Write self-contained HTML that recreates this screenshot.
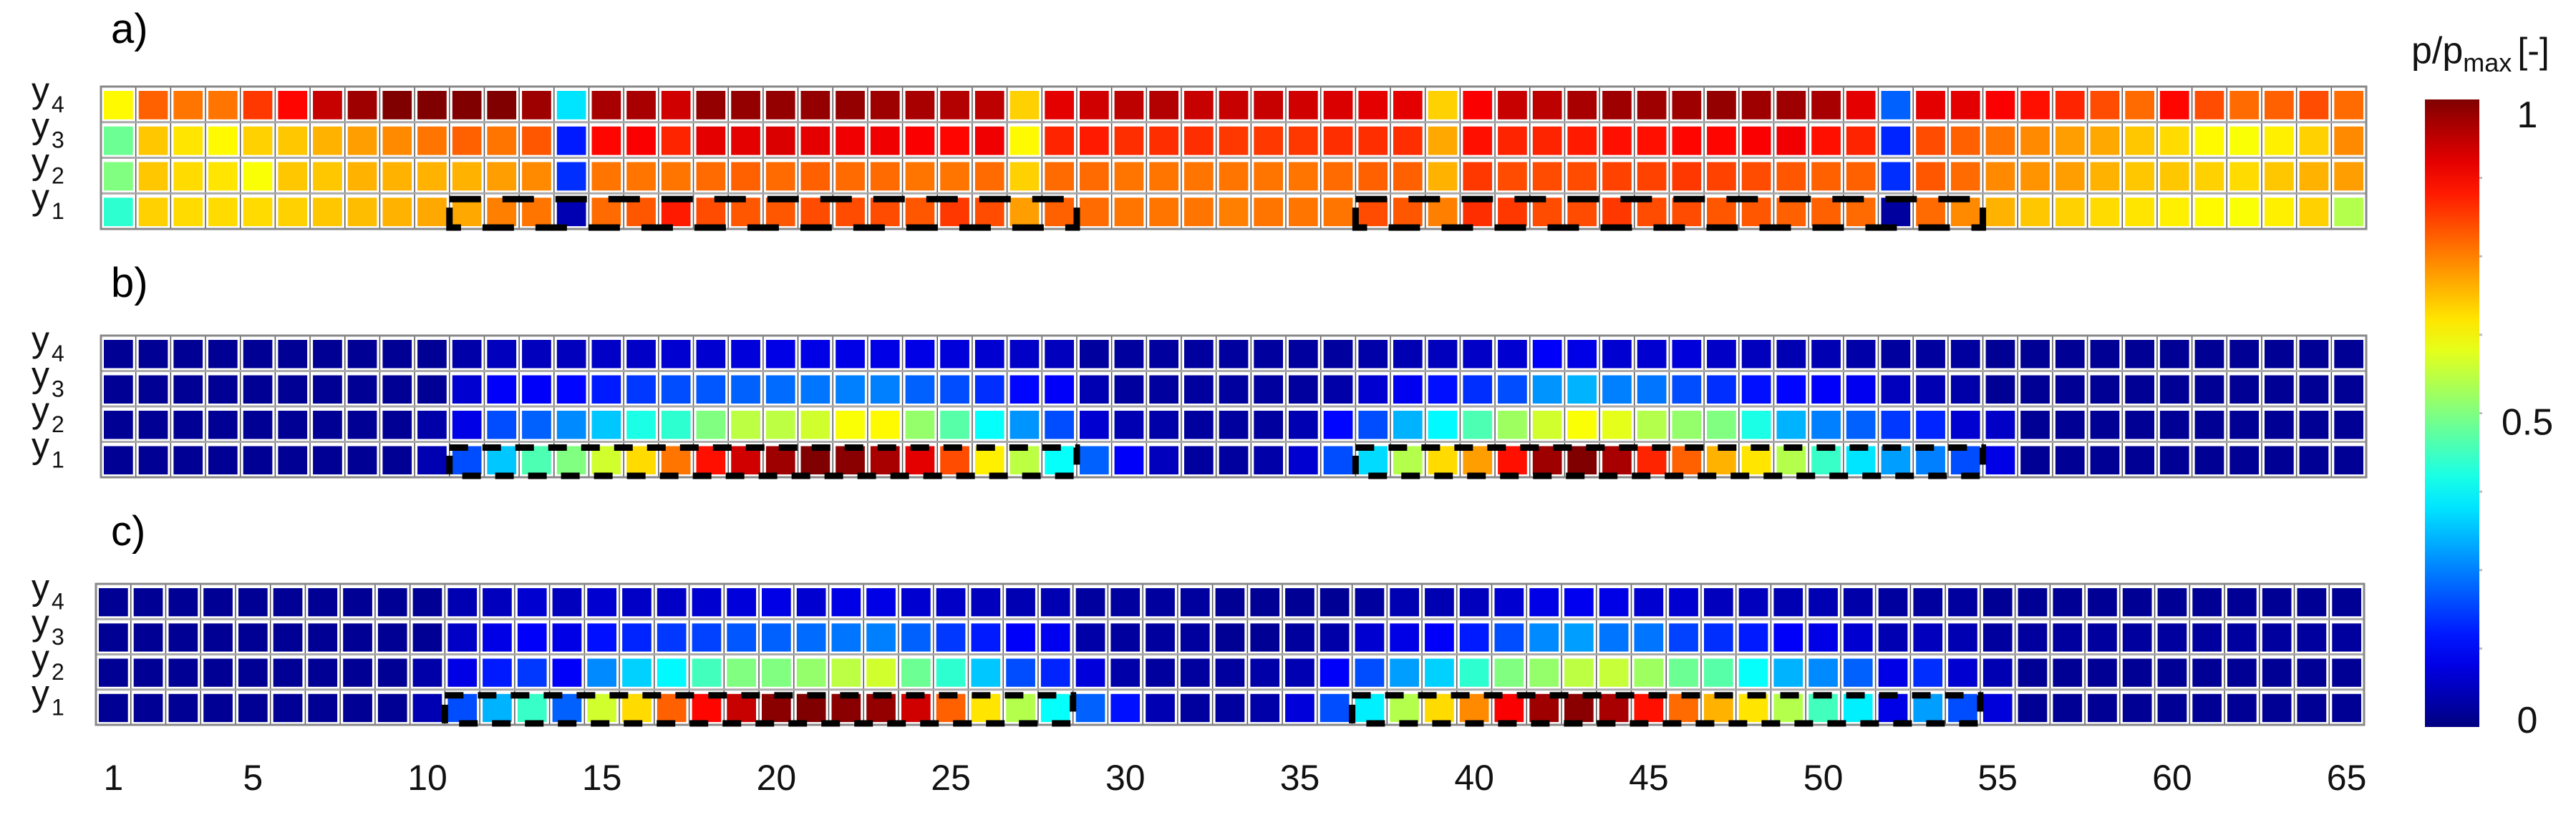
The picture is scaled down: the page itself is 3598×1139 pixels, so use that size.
<!DOCTYPE html>
<html><head><meta charset="utf-8"><style>
html,body{margin:0;padding:0;background:#fff;}
svg{display:block;font-family:"Liberation Sans",Arial,sans-serif;}
</style></head><body>
<svg id="chart" xmlns="http://www.w3.org/2000/svg" width="3598" height="1139" viewBox="0 0 3598 1139">
<defs><linearGradient id="jetGrad" x1="0" y1="1" x2="0" y2="0"></linearGradient></defs>
<rect x="0" y="0" width="3598" height="1139" fill="#fff"/>
<g id="panels"></g>
<g id="colorbar"></g>
</svg>
<script>
const columns = Array.from({length:65},(_, i)=>i+1);
const rowLabels = ["1","2","3","4"];
const xTickLabels = [1,5,10,15,20,25,30,35,40,45,50,55,60,65];
const cbTicks = [0,0.5,1];
const cbTickLabels = ["0","0.5","1"];
const dashedRanges = [[11,28],[37,54]];

const a_y4=[0.63,0.78,0.76,0.76,0.82,0.87,0.93,0.97,1.0,1.0,1.0,1.0,0.97,0.35,0.96,0.96,0.92,0.98,0.98,0.98,0.98,0.98,0.97,0.96,0.95,0.94,0.67,0.9,0.92,0.94,0.95,0.93,0.93,0.93,0.92,0.91,0.9,0.9,0.67,0.88,0.93,0.94,0.96,0.97,0.97,0.97,0.98,0.97,0.97,0.96,0.9,0.22,0.9,0.9,0.88,0.86,0.84,0.8,0.77,0.87,0.8,0.77,0.78,0.8,0.77];
const a_y3=[0.48,0.68,0.65,0.63,0.67,0.68,0.7,0.72,0.74,0.76,0.78,0.76,0.79,0.15,0.87,0.88,0.84,0.9,0.9,0.91,0.9,0.89,0.89,0.88,0.87,0.89,0.63,0.84,0.85,0.83,0.83,0.83,0.82,0.82,0.82,0.83,0.83,0.83,0.71,0.86,0.84,0.84,0.85,0.86,0.86,0.87,0.87,0.88,0.89,0.86,0.84,0.16,0.8,0.78,0.76,0.74,0.72,0.71,0.68,0.66,0.63,0.62,0.64,0.67,0.74];
const a_y2=[0.5,0.68,0.66,0.65,0.62,0.68,0.68,0.7,0.7,0.7,0.7,0.72,0.74,0.17,0.76,0.76,0.76,0.77,0.78,0.77,0.78,0.77,0.77,0.76,0.76,0.77,0.67,0.77,0.77,0.76,0.76,0.76,0.76,0.76,0.76,0.77,0.78,0.78,0.7,0.82,0.8,0.8,0.8,0.81,0.81,0.82,0.81,0.8,0.79,0.78,0.78,0.17,0.79,0.77,0.74,0.73,0.72,0.7,0.68,0.68,0.67,0.66,0.68,0.7,0.72];
const a_y1=[0.42,0.67,0.66,0.66,0.66,0.67,0.68,0.69,0.7,0.71,0.71,0.75,0.76,0.05,0.77,0.79,0.85,0.8,0.79,0.79,0.8,0.8,0.8,0.79,0.82,0.8,0.72,0.78,0.77,0.76,0.76,0.76,0.75,0.76,0.76,0.76,0.8,0.79,0.75,0.83,0.82,0.8,0.8,0.82,0.8,0.8,0.79,0.79,0.78,0.78,0.77,0.03,0.77,0.74,0.7,0.68,0.67,0.66,0.65,0.64,0.63,0.62,0.64,0.67,0.55];

const b_y4=[0.02,0.02,0.02,0.02,0.02,0.02,0.02,0.02,0.02,0.02,0.04,0.06,0.06,0.06,0.07,0.07,0.08,0.08,0.09,0.1,0.1,0.1,0.1,0.1,0.09,0.08,0.07,0.06,0.03,0.03,0.03,0.03,0.03,0.03,0.03,0.03,0.04,0.05,0.06,0.07,0.08,0.12,0.1,0.08,0.08,0.09,0.07,0.06,0.05,0.05,0.04,0.03,0.03,0.03,0.02,0.02,0.02,0.02,0.02,0.02,0.02,0.02,0.02,0.02,0.02];
const b_y3=[0.02,0.02,0.02,0.02,0.02,0.02,0.02,0.02,0.02,0.02,0.08,0.12,0.12,0.13,0.15,0.18,0.2,0.21,0.22,0.23,0.24,0.25,0.25,0.22,0.2,0.17,0.13,0.12,0.05,0.03,0.03,0.03,0.03,0.03,0.03,0.04,0.08,0.11,0.14,0.17,0.2,0.27,0.3,0.25,0.24,0.2,0.17,0.14,0.13,0.12,0.11,0.06,0.05,0.04,0.02,0.02,0.02,0.02,0.02,0.02,0.02,0.02,0.02,0.02,0.02];
const b_y2=[0.02,0.02,0.02,0.02,0.02,0.02,0.02,0.02,0.02,0.04,0.1,0.2,0.22,0.26,0.32,0.4,0.42,0.5,0.56,0.56,0.58,0.62,0.63,0.52,0.46,0.38,0.27,0.2,0.08,0.05,0.04,0.03,0.03,0.03,0.05,0.13,0.2,0.3,0.37,0.45,0.53,0.58,0.62,0.6,0.55,0.52,0.5,0.4,0.3,0.25,0.22,0.18,0.16,0.08,0.07,0.02,0.02,0.02,0.02,0.02,0.02,0.02,0.02,0.02,0.02];
const b_y1=[0.02,0.02,0.02,0.02,0.02,0.02,0.02,0.02,0.02,0.05,0.2,0.32,0.45,0.5,0.58,0.66,0.76,0.86,0.92,0.97,1.0,0.99,0.96,0.9,0.8,0.64,0.56,0.38,0.22,0.12,0.06,0.03,0.03,0.04,0.08,0.2,0.34,0.55,0.66,0.72,0.86,0.97,1.0,0.96,0.84,0.78,0.7,0.65,0.55,0.43,0.35,0.28,0.25,0.2,0.1,0.02,0.02,0.02,0.02,0.02,0.02,0.02,0.02,0.02,0.02];

const c_y4=[0.02,0.02,0.02,0.02,0.02,0.02,0.02,0.02,0.02,0.02,0.05,0.06,0.08,0.06,0.08,0.07,0.07,0.08,0.09,0.1,0.08,0.1,0.1,0.08,0.07,0.06,0.05,0.05,0.03,0.03,0.03,0.03,0.02,0.02,0.02,0.02,0.03,0.05,0.05,0.06,0.08,0.1,0.11,0.1,0.08,0.08,0.06,0.06,0.05,0.05,0.04,0.03,0.03,0.03,0.02,0.02,0.02,0.02,0.02,0.02,0.02,0.02,0.02,0.02,0.02];
const c_y3=[0.02,0.02,0.02,0.02,0.02,0.02,0.02,0.02,0.02,0.02,0.07,0.1,0.12,0.1,0.14,0.16,0.18,0.19,0.21,0.22,0.23,0.24,0.25,0.22,0.18,0.15,0.12,0.11,0.04,0.03,0.03,0.03,0.02,0.02,0.03,0.04,0.08,0.1,0.12,0.15,0.2,0.26,0.28,0.24,0.24,0.19,0.17,0.15,0.12,0.1,0.08,0.05,0.06,0.05,0.03,0.03,0.03,0.03,0.03,0.03,0.03,0.03,0.03,0.03,0.03];
const c_y2=[0.02,0.02,0.02,0.02,0.02,0.02,0.02,0.02,0.02,0.04,0.1,0.15,0.18,0.12,0.26,0.33,0.37,0.44,0.5,0.5,0.52,0.56,0.58,0.48,0.42,0.32,0.2,0.16,0.09,0.04,0.03,0.03,0.03,0.04,0.05,0.12,0.2,0.28,0.33,0.42,0.5,0.52,0.56,0.57,0.53,0.48,0.46,0.38,0.3,0.26,0.22,0.1,0.17,0.08,0.05,0.02,0.02,0.02,0.02,0.02,0.02,0.02,0.02,0.02,0.02];
const c_y1=[0.02,0.02,0.02,0.02,0.02,0.02,0.02,0.02,0.02,0.05,0.2,0.3,0.43,0.22,0.58,0.66,0.78,0.87,0.93,0.99,1.0,0.99,0.98,0.92,0.78,0.65,0.55,0.38,0.22,0.14,0.05,0.03,0.03,0.04,0.09,0.2,0.36,0.55,0.66,0.74,0.88,0.97,0.99,0.96,0.86,0.77,0.7,0.65,0.55,0.44,0.36,0.1,0.28,0.2,0.09,0.02,0.02,0.02,0.02,0.02,0.02,0.02,0.02,0.02,0.02];

const NS="http://www.w3.org/2000/svg";
function el(tag, attrs, parent){const e=document.createElementNS(NS,tag);for(const k in attrs)e.setAttribute(k,attrs[k]);if(parent)parent.appendChild(e);return e;}
function jet(v){v=Math.max(0,Math.min(1,v));const cl=x=>Math.max(0,Math.min(1,x));
  const r=cl(1.5-Math.abs(4*v-3)),g=cl(1.5-Math.abs(4*v-2)),b=cl(1.5-Math.abs(4*v-1));
  return `rgb(${Math.round(r*255)},${Math.round(g*255)},${Math.round(b*255)})`;}

const panels=[
 {key:"a",label:"a)",x0:141,x1:3305,y0:121,y1:320,ly:60,rows:[a_y1,a_y2,a_y3,a_y4],dash:"44 30"},
 {key:"b",label:"b)",x0:141,x1:3305,y0:469,y1:667,ly:415,rows:[b_y1,b_y2,b_y3,b_y4],dash:"26 20"},
 {key:"c",label:"c)",x0:134,x1:3302,y0:816,y1:1013,ly:762,rows:[c_y1,c_y2,c_y3,c_y4],dash:"26 20"}
];
const root=document.getElementById("panels");
panels.forEach(p=>{
  const g=el("g",{},root);
  
  
  const cw=(p.x1-p.x0)/columns.length, rh=(p.y1-p.y0)/rowLabels.length;
  const xs=c=>p.x0+(c-1)*cw;
  const ys=r=>p.y1-(r+1)*rh;
  const t=el("text",{x:155,y:p.ly,"font-size":58,fill:"#000"},g);
  t.textContent=p.label;
  
  
  el("rect",{x:p.x0,y:p.y0,width:p.x1-p.x0,height:p.y1-p.y0,fill:"#fff"},g);
  p.rows.forEach((vals,r)=>{
    vals.forEach((v,i)=>{
      const c=columns[i];
      const cell=el("rect",{x:(xs(c)+4).toFixed(1),y:(ys(r)+6).toFixed(1),width:(cw-8).toFixed(1),height:(rh-10).toFixed(1),fill:jet(v)},g);
      
      
    });
    const lab=el("text",{x:44,y:(ys(r)+rh/2-3).toFixed(1),"font-size":50,fill:"#111"},g);
    
    
    lab.textContent="y";
    const sub=el("tspan",{"font-size":32,dy:14,dx:3},lab);
    sub.textContent=rowLabels[r];
  });
  for(let c=1;c<columns.length;c++){
    el("line",{x1:xs(c+1),x2:xs(c+1),y1:p.y0,y2:p.y1,stroke:"#555","stroke-width":1.5},g);
  }
  for(let r=1;r<rowLabels.length;r++){
    el("line",{x1:p.x0,x2:p.x1,y1:p.y1-r*rh,y2:p.y1-r*rh,stroke:"#aaa","stroke-width":3},g);
  }
  el("rect",{x:p.x0,y:p.y0,width:p.x1-p.x0,height:p.y1-p.y0,fill:"none",stroke:"#888","stroke-width":3},g);
  dashedRanges.forEach((rg,k)=>{
    const bx=xs(rg[0]), bw=xs(rg[1]+1)-xs(rg[0]);
    const by=p.y1-rh+8, bh=rh-10;
    const box=el("rect",{x:bx,y:by,width:bw,height:bh,fill:"none",stroke:"#000","stroke-width":9,"stroke-dasharray":p.dash},g);
    
    
  });
  if(p.key==="c"){
    xTickLabels.forEach(v=>{
      const tl=el("text",{x:(xs(v)+cw/2).toFixed(1),y:1104,"font-size":50,"text-anchor":"middle",fill:"#111"},g);
      
      
      tl.textContent=String(v);
    });
  }
});

const grad=document.getElementById("jetGrad");
for(let i=0;i<=20;i++){el("stop",{offset:(i/20).toFixed(3),"stop-color":jet(i/20)},grad);}
const cb=document.getElementById("colorbar");
const cbX=3387,cbW=76,cbTop=139,cbBot=1016;
const cy=v=>cbBot-v*(cbBot-cbTop);
const bar=el("rect",{x:cbX,y:cbTop,width:cbW,height:cbBot-cbTop,fill:"url(#jetGrad)"},cb);


for(let i=1;i<8;i++){el("line",{x1:cbX+cbW,x2:cbX+cbW+4,y1:cy(i/8),y2:cy(i/8),stroke:"#bbb","stroke-width":3},cb);}
cbTicks.forEach((v,i)=>{
  const yy=v===1?cy(v)+39:(v===0?cy(v)+8:cy(v)+30);
  const tl=el("text",{x:3530,y:yy,"font-size":52,"text-anchor":"middle",fill:"#111"},cb);
  
  
  tl.textContent=cbTickLabels[i];
});
const title=el("text",{x:3368,y:88,"font-size":52,fill:"#111"},cb);


title.textContent="p/p";
const ts=el("tspan",{"font-size":36,dy:12},title); ts.textContent="max";
const ts2=el("tspan",{"font-size":50,dy:-12,dx:8},title); ts2.textContent="[-]";
</script>
</body></html>
